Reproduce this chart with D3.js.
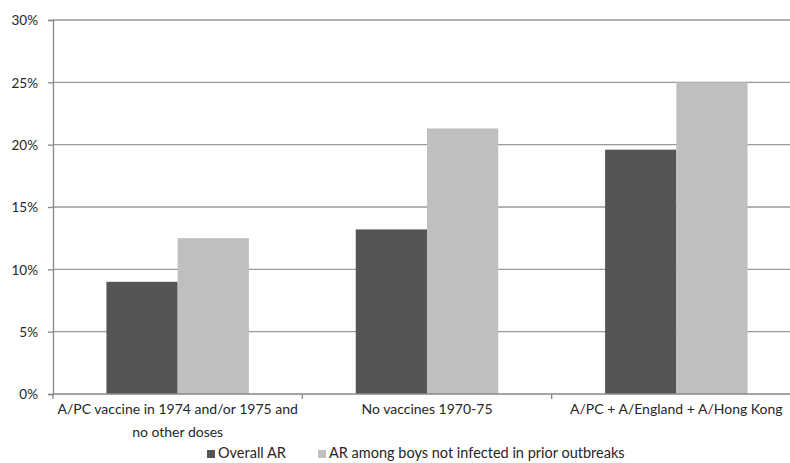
<!DOCTYPE html>
<html><head><meta charset="utf-8">
<script src="https://cdn.jsdelivr.net/npm/d3@7"></script>
<style>body{margin:0;background:#fff}text{font-family:Lato,"Open Sans",sans-serif;fill:#262626}</style>
</head><body><svg id="c" width="790" height="463"></svg>
<script>
const categories = [["A/PC vaccine in 1974 and/or 1975 and","no other doses"],["No vaccines 1970-75"],["A/PC + A/England + A/Hong Kong"]];
const seriesNames = ["Overall AR","AR among boys not infected in prior outbreaks"];
const overallAR = [9.0, 13.2, 19.6];
const naiveAR = [12.5, 21.3, 25.0];
const yTicks = [0,5,10,15,20,25,30];
const colors = ["#555555","#bfbfbf"];

const svg = d3.select("#c");
const m = {l:53, t:20, r:801, b:394};
const x = d3.scaleBand().domain(d3.range(categories.length)).range([m.l, m.r]);
const x1 = d3.scaleBand().domain([0,1]).range([0, x.bandwidth()]).paddingOuter(0.75).paddingInner(0);
const y = d3.scaleLinear().domain([0,30]).range([m.b, m.t]);

svg.append("g").selectAll("line").data(yTicks.filter(d=>d>0)).join("line")
  .attr("x1", m.l).attr("x2", m.r).attr("y1", d=>y(d)).attr("y2", d=>y(d))
  .attr("stroke","#999").attr("stroke-width",1.3);

const series = [overallAR, naiveAR];
series.forEach((vals, si) => {
  svg.append("g").selectAll("rect").data(vals).join("rect")
    .attr("x", (d,i)=>x(i)+x1(si)).attr("width", x1.bandwidth())
    .attr("y", d=>y(d)).attr("height", d=>y(0)-y(d))
    .attr("fill", colors[si]);
});

const ya = svg.append("g").attr("transform",`translate(${m.l},0)`)
  .call(d3.axisLeft(y).tickValues(yTicks).tickFormat(d=>d+"%").tickSize(5).tickPadding(10));
ya.select(".domain").attr("stroke","#888").attr("stroke-width",1.3);
ya.selectAll(".tick line").attr("stroke","#888").attr("stroke-width",1.3);
ya.selectAll(".tick text").style("font-size","13.5px").style("fill","#262626").attr("dy","0.35em");

svg.append("line").attr("x1",m.l).attr("x2",m.r).attr("y1",m.b).attr("y2",m.b).attr("stroke","#888").attr("stroke-width",1.3);
const bounds = d3.range(categories.length+1).map(i=>m.l + i*x.step());
svg.append("g").selectAll("line").data(bounds).join("line")
  .attr("x1",d=>d).attr("x2",d=>d).attr("y1",m.b).attr("y2",m.b+5).attr("stroke","#888").attr("stroke-width",1.3);

const lab = svg.append("g").selectAll("text").data(categories).join("text")
  .attr("x",(d,i)=>x(i)+x.bandwidth()/2).attr("y",414).attr("text-anchor","middle").style("font-size","14px");
lab.selectAll("tspan").data(d=>d).join("tspan")
  .attr("x",function(){return this.parentNode.getAttribute("x");}).attr("dy",(d,i)=>i?"1.65em":0).text(d=>d);

const lg = svg.append("g");
const lx = [207, 318];
seriesNames.forEach((n,i)=>{
  lg.append("rect").attr("x",lx[i]).attr("y",450).attr("width",8).attr("height",8).attr("fill",colors[i]);
  lg.append("text").attr("x",lx[i]+11).attr("y",458).style("font-size","14.5px").text(n);
});
</script></body></html>
